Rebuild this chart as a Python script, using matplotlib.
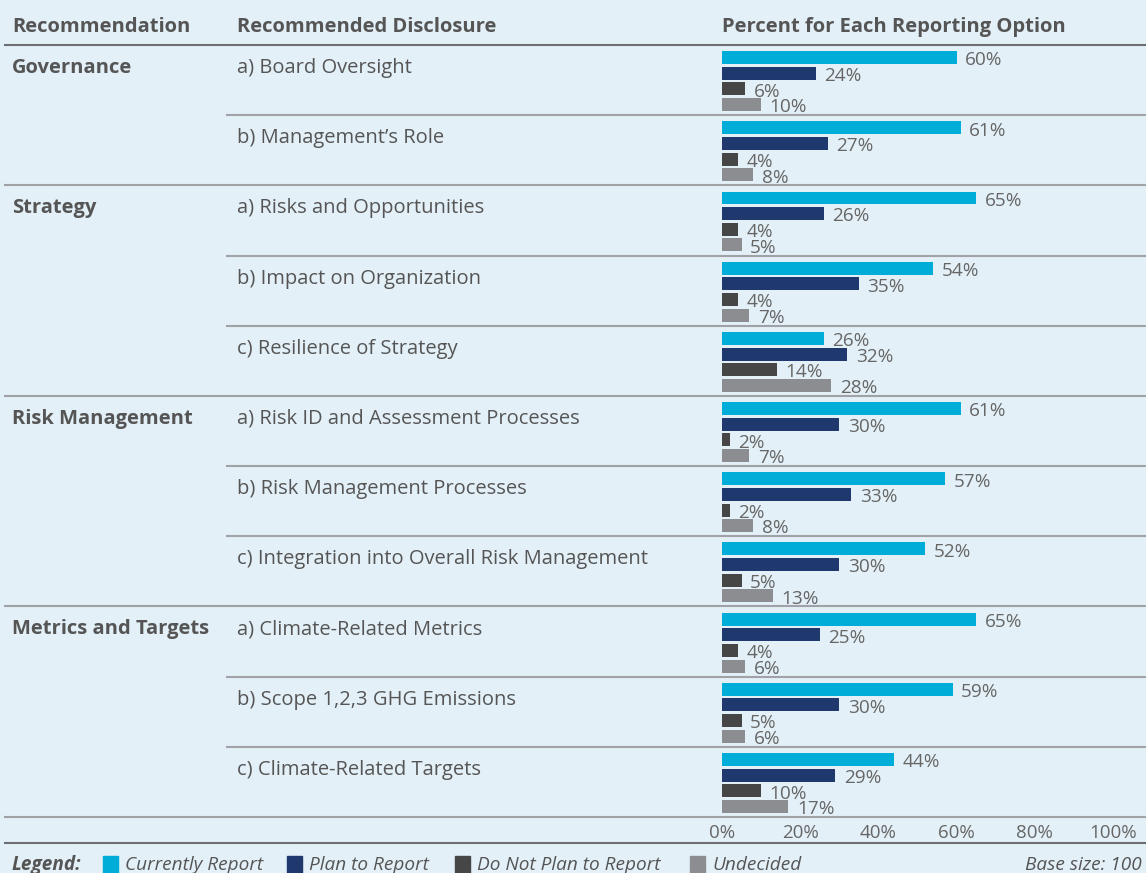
import numpy as np
import matplotlib
matplotlib.use("Agg")
from matplotlib import pyplot as plt

plt.rcParams['font.family'] = ['Open Sans', 'DejaVu Sans']

# data
groups = ["Governance", "Strategy", "Risk Management", "Metrics and Targets"]
group_sizes = [2, 3, 3, 3]
disclosures = ["a) Board Oversight", "b) Management\u2019s Role",
               "a) Risks and Opportunities", "b) Impact on Organization",
               "c) Resilience of Strategy",
               "a) Risk ID and Assessment Processes", "b) Risk Management Processes",
               "c) Integration into Overall Risk Management",
               "a) Climate-Related Metrics", "b) Scope 1,2,3 GHG Emissions",
               "c) Climate-Related Targets"]
currently = [60, 61, 65, 54, 26, 61, 57, 52, 65, 59, 44]
plan = [24, 27, 26, 35, 32, 30, 33, 30, 25, 30, 29]
no_plan = [6, 4, 4, 4, 14, 2, 2, 5, 4, 5, 10]
undecided = [10, 8, 5, 7, 28, 7, 8, 13, 6, 6, 17]
series_names = ["Currently Report", "Plan to Report", "Do Not Plan to Report", "Undecided"]
ticks = [0, 20, 40, 60, 80, 100]

colors = ["#00acd8", "#1f386e", "#464646", "#8b8d91"]
bg = "#e3f0f7"
txt = "#555555"
W, H = 1146, 873
top, bottom = 45, 817
n = len(disclosures)
row_h = (bottom - top) / n

fig = plt.figure(figsize=(W / 100, H / 100), dpi=100, facecolor=bg)

# overlay axes in pixel coords for the table part
ov = fig.add_axes([0, 0, 1, 1])
ov.set_xlim(0, W)
ov.set_ylim(H, 0)
ov.axis("off")

# bar axes
x0, x1 = 722, 1113
ax = fig.add_axes([x0 / W, (H - bottom) / H, (x1 - x0) / W, (bottom - top) / H])
ax.set_facecolor("none")
ax.set_xlim(0, 100)
ax.set_ylim(n, 0)
for s in ax.spines.values():
    s.set_visible(False)
ax.set_yticks([])
ax.set_xticks(ticks)
ax.set_xticklabels([f"{t}%" for t in ticks], color="#666666", fontsize=13.5)
ax.tick_params(axis="x", length=0, pad=5)

offsets = [0.18, 0.403, 0.626, 0.849]
rows = np.arange(n)
for k, vals in enumerate([currently, plan, no_plan, undecided]):
    ax.barh(rows + offsets[k], vals, height=0.185, color=colors[k])
    for i, v in enumerate(vals):
        ax.text(v + 2.2, i + offsets[k] + 0.04, f"{v}%", va="center", ha="left",
                fontsize=13.7, color="#666666")

# headers
hy = 27
fs = 14.5
ov.text(12, hy, "Recommendation", fontsize=fs, fontweight="bold", color=txt, va="center")
ov.text(237, hy, "Recommended Disclosure", fontsize=fs, fontweight="bold", color=txt, va="center")
ov.text(722, hy, "Percent for Each Reporting Option", fontsize=fs, fontweight="bold", color=txt, va="center")
ov.plot([5, W], [top, top], color="#6d6e71", lw=1.5)

# rows
starts = np.cumsum([0] + group_sizes[:-1])
for i in range(n):
    y = top + i * row_h + 23
    ov.text(237, y, disclosures[i], fontsize=fs, color=txt, va="center")
for g, s in zip(groups, starts):
    ov.text(12, top + s * row_h + 23, g, fontsize=fs, fontweight="bold", color=txt, va="center")
for i in range(1, n + 1):
    y = top + i * row_h
    xs = 5 if (i in starts or i == n) else 227
    ov.plot([xs, W], [y, y], color="#a0a2a5", lw=1.5)
ov.plot([5, W], [843, 843], color="#6d6e71", lw=1.5)

# legend row
ly = 865
ov.text(12, ly, "Legend:", fontsize=13.7, fontweight="bold", style="italic", color=txt, va="center")
lx = [103, 287, 455, 690]
for k in range(4):
    ov.add_patch(plt.Rectangle((lx[k], 856), 15, 20, color=colors[k]))
    ov.text(lx[k] + 22, ly, series_names[k], fontsize=13.7, style="italic", color=txt, va="center")
ov.text(1142, ly, "Base size: 100", fontsize=13.7, style="italic", color=txt, va="center", ha="right")

fig.savefig("out.png", dpi=100, facecolor=bg)
